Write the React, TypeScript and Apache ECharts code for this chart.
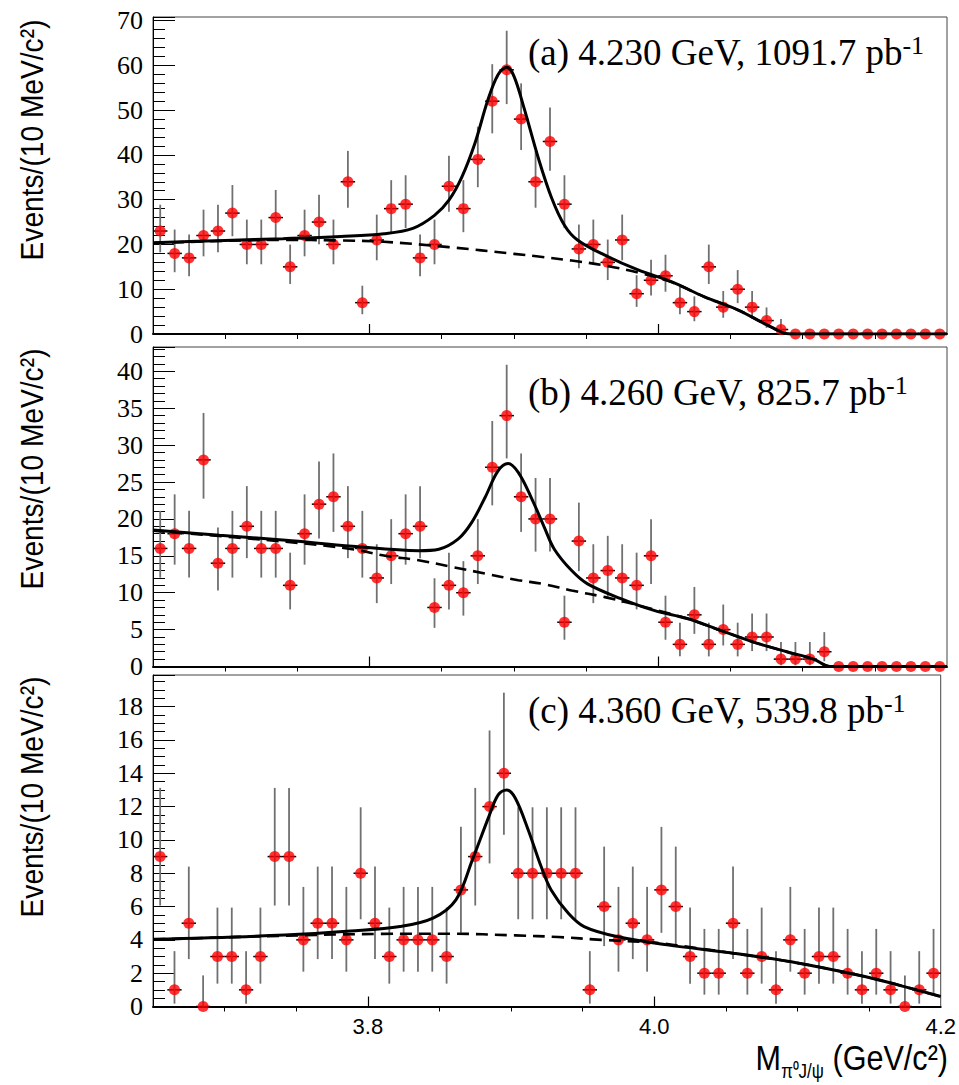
import React, { useEffect, useRef } from "react";
import * as echarts from "echarts";

// ---------- data ----------
const BIN_CENTERS = [
  3.655, 3.665, 3.675, 3.685, 3.695, 3.705, 3.715, 3.725, 3.735, 3.745,
  3.755, 3.765, 3.775, 3.785, 3.795, 3.805, 3.815, 3.825, 3.835, 3.845,
  3.855, 3.865, 3.875, 3.885, 3.895, 3.905, 3.915, 3.925, 3.935, 3.945,
  3.955, 3.965, 3.975, 3.985, 3.995, 4.005, 4.015, 4.025, 4.035, 4.045,
  4.055, 4.065, 4.075, 4.085, 4.095, 4.105, 4.115, 4.125, 4.135, 4.145,
  4.155, 4.165, 4.175, 4.185, 4.195,
];

const COUNTS_A = [
  23, 18, 17, 22, 23, 27, 20, 20, 26, 15,
  22, 25, 20, 34, 7, 21, 28, 29, 17, 20,
  33, 28, 39, 52, 59, 48, 34, 43, 29, 19,
  20, 16, 21, 9, 12, 13, 7, 5, 15, 6,
  10, 6, 3, 1, 0, 0, 0, 0, 0, 0,
  0, 0, 0, 0, 0,
];
const COUNTS_B = [
  16, 18, 16, 28, 14, 16, 19, 16, 16, 11,
  18, 22, 23, 19, 16, 12, 15, 18, 19, 8,
  11, 10, 15, 27, 34, 23, 20, 20, 6, 17,
  12, 13, 12, 11, 15, 6, 3, 7, 3, 5,
  3, 4, 4, 1, 1, 1, 2, 0, 0, 0,
  0, 0, 0, 0, 0,
];
const COUNTS_C = [
  9, 1, 5, 0, 3, 3, 1, 3, 9, 9,
  4, 5, 5, 4, 8, 5, 3, 4, 4, 4,
  3, 7, 9, 12, 14, 8, 8, 8, 8, 8,
  1, 6, 4, 5, 4, 7, 6, 3, 2, 2,
  5, 2, 3, 1, 4, 2, 3, 3, 2, 1,
  2, 1, 0, 1, 2,
];

// fitted curves: [mass, events]
const TOTAL_A = [
  [3.65, 20.4], [3.7, 20.9], [3.74, 21.3], [3.78, 21.8], [3.81, 22.4], [3.83, 23.6],
  [3.845, 26.5], [3.855, 29.9], [3.864, 35.1], [3.873, 42.6], [3.882, 52.3], [3.889, 57.9],
  [3.895, 59.6], [3.9, 57.6], [3.907, 50.5], [3.917, 39.2], [3.926, 30.5], [3.935, 24.3],
  [3.944, 21.0], [3.963, 17.6], [3.986, 14.3], [4.009, 11.7], [4.032, 8.3], [4.055, 5.4],
  [4.078, 1.6], [4.091, 0], [4.2, 0],
];
const BKG_A = [
  [3.65, 20.3], [3.7, 20.8], [3.74, 21.0], [3.78, 20.9], [3.81, 20.6], [3.855, 19.4],
  [3.9, 17.9], [3.917, 17.3], [3.94, 16.4], [3.963, 15.3], [3.986, 13.7], [4.009, 11.6],
  [4.032, 8.3], [4.055, 5.4], [4.078, 1.6], [4.091, 0], [4.2, 0],
];
const TOTAL_B = [
  [3.65, 18.5], [3.696, 17.8], [3.742, 17.1], [3.788, 16.3], [3.834, 15.7], [3.848, 15.9],
  [3.8615, 17.3], [3.8707, 19.5], [3.88, 22.9], [3.889, 26.5], [3.896, 27.5], [3.903, 26.3],
  [3.912, 22.9], [3.921, 18.9], [3.928, 15.9], [3.94, 13.0], [3.951, 11.2], [3.974, 9.2],
  [3.997, 7.6], [4.02, 6.5], [4.043, 4.9], [4.066, 3.3], [4.089, 2.0], [4.1075, 1.0],
  [4.119, 0], [4.2, 0],
];
const BKG_B = [
  [3.65, 18.4], [3.742, 16.9], [3.788, 15.9], [3.811, 15.0], [3.834, 14.4], [3.857, 13.5],
  [3.88, 12.6], [3.903, 11.7], [3.92, 11.2], [3.94, 10.3], [3.963, 9.4], [3.986, 8.3],
  [4.009, 7.1], [4.02, 6.5], [4.043, 4.9], [4.066, 3.3], [4.089, 2.0], [4.1075, 1.0],
  [4.119, 0], [4.2, 0],
];
const TOTAL_C = [
  [3.65, 4.03], [3.742, 4.29], [3.788, 4.53], [3.8225, 4.8], [3.8455, 5.3], [3.8615, 6.4],
  [3.873, 8.8], [3.8845, 11.4], [3.891, 12.7], [3.897, 13.0], [3.903, 12.5], [3.912, 10.6],
  [3.921, 8.4], [3.928, 7.0], [3.94, 5.6], [3.951, 4.8], [3.974, 4.2], [4.009, 3.7],
  [4.055, 3.2], [4.101, 2.6], [4.147, 1.8], [4.17, 1.3], [4.2, 0.6],
];
const BKG_C = [
  [3.65, 4.02], [3.742, 4.25], [3.811, 4.36], [3.857, 4.37], [3.903, 4.27], [3.933, 4.17],
  [3.963, 4.0], [3.997, 3.85], [4.009, 3.75], [4.055, 3.2], [4.101, 2.6], [4.147, 1.8],
  [4.17, 1.3], [4.2, 0.6],
];

const LABELS = [
  "(a) 4.230 GeV, 1091.7 pb",
  "(b) 4.260 GeV, 825.7 pb",
  "(c) 4.360 GeV, 539.8 pb",
];
const X_LABEL_VALUES = [3.8, 4.0, 4.2];
const X_MAJOR_TICKS = [3.8, 4.0];
const X_MINOR_TICKS = [3.7, 3.75, 3.85, 3.9, 3.95, 4.05, 4.1, 4.15];

// ---------- layout ----------
const SERIF = '"Liberation Serif", "Times New Roman", serif';
const SANS = '"Liberation Sans", Arial, Helvetica, sans-serif';

const PANELS = [
  { counts: COUNTS_A, total: TOTAL_A, bkg: BKG_A, top: 17, height: 317, ymax: 70.8, interval: 10, minor: 5, zeroBars: false, titleY: 140, labelTop: 32.5 },
  { counts: COUNTS_B, total: TOTAL_B, bkg: BKG_B, top: 347, height: 319.5, ymax: 43.3, interval: 5, minor: 5, zeroBars: false, titleY: 469, labelTop: 372.5 },
  { counts: COUNTS_C, total: TOTAL_C, bkg: BKG_C, top: 675, height: 331.5, ymax: 19.9, interval: 2, minor: 4, zeroBars: true, titleY: 797, labelTop: 690.5 },
];

function buildOption() {
  const grid: any[] = [];
  const xAxis: any[] = [];
  const yAxis: any[] = [];
  const series: any[] = [];
  const graphic: any[] = [];

  PANELS.forEach((p, i) => {
    grid.push({
      left: 153,
      right: 12,
      top: p.top,
      height: p.height,
      show: true,
      borderColor: "#444",
      borderWidth: 1,
      backgroundColor: "transparent",
    });
    xAxis.push({
      type: "value",
      gridIndex: i,
      min: 3.65,
      max: 4.2,
      axisLine: { show: true, onZero: false, lineStyle: { color: "#000", width: 2 } },
      axisTick: { show: true, inside: true, length: 10, customValues: X_MAJOR_TICKS, lineStyle: { color: "#000", width: 1.2 } },
      axisLabel: {
        show: i === 2,
        customValues: X_LABEL_VALUES,
        formatter: (v: number) => v.toFixed(1),
        fontFamily: SANS,
        fontSize: 22,
        color: "#000",
        margin: 9,
      },
      splitLine: { show: false },
    });
    xAxis.push({
      type: "value",
      gridIndex: i,
      min: 3.65,
      max: 4.2,
      axisLine: { show: false },
      axisTick: { show: true, inside: true, length: 5, customValues: X_MINOR_TICKS, lineStyle: { color: "#000", width: 1 } },
      axisLabel: { show: false },
      splitLine: { show: false },
    });
    yAxis.push({
      type: "value",
      gridIndex: i,
      min: 0,
      max: p.ymax,
      interval: p.interval,
      axisLine: { show: true, lineStyle: { color: "#000", width: 1 } },
      axisTick: { show: true, inside: true, length: 22, lineStyle: { color: "#000", width: 1 } },
      minorTick: { show: true, splitNumber: p.minor, length: 12, lineStyle: { color: "#000", width: 1 } },
      axisLabel: { showMaxLabel: false, fontFamily: SERIF, fontSize: 26, color: "#000", margin: 10 },
      splitLine: { show: false },
      minorSplitLine: { show: false },
    });

    const pts = BIN_CENTERS.map((x, k) => [x, p.counts[k]]);
    const zeroBars = p.zeroBars;
    series.push({
      type: "custom",
      xAxisIndex: 2 * i,
      yAxisIndex: i,
      data: pts,
      z: 2,
      silent: true,
      renderItem: (_params: any, api: any) => {
        const x = api.value(0);
        const n = api.value(1);
        const c = api.coord([x, n]);
        const l = api.coord([x - 0.005, n]);
        const r = api.coord([x + 0.005, n]);
        const children: any[] = [
          { type: "line", shape: { x1: l[0], y1: c[1], x2: r[0], y2: c[1] }, style: { stroke: "#000", lineWidth: 1.5 } },
        ];
        if (n > 0 || zeroBars) {
          const hiVal = n + Math.sqrt(n + 0.75) + 1;
          const loVal = n > 0 ? n * Math.pow(1 - 1 / (9 * n) - 1 / (3 * Math.sqrt(n)), 3) : 0;
          const hi = api.coord([x, hiVal]);
          const lo = api.coord([x, loVal]);
          children.push({
            type: "line",
            shape: { x1: c[0], y1: hi[1], x2: c[0], y2: lo[1] },
            style: { stroke: "#707070", lineWidth: 1.8 },
          });
        }
        return { type: "group", children };
      },
    });
    series.push({
      type: "scatter",
      xAxisIndex: 2 * i,
      yAxisIndex: i,
      data: pts,
      symbol: "circle",
      symbolSize: 11,
      itemStyle: { color: "#ff0000" },
      z: 3,
      silent: true,
    });
    series.push({
      type: "line",
      xAxisIndex: 2 * i,
      yAxisIndex: i,
      data: p.bkg,
      showSymbol: false,
      smooth: 0.35,
      lineStyle: { color: "#000", width: 2.6, type: [12, 7] },
      z: 4,
      silent: true,
    });
    series.push({
      type: "line",
      xAxisIndex: 2 * i,
      yAxisIndex: i,
      data: p.total,
      showSymbol: false,
      smooth: 0.35,
      lineStyle: { color: "#000", width: 3 },
      z: 5,
      silent: true,
    });

    graphic.push({
      type: "text",
      x: 32,
      y: p.titleY,
      rotation: Math.PI / 2,
      scaleX: 0.88,
      style: {
        text: "Events/(10 MeV/c²)",
        fontFamily: SANS,
        fontSize: 32,
        fill: "#000",
        align: "center",
        verticalAlign: "middle",
      },
      z: 10,
    });
    graphic.push({
      type: "text",
      x: 528,
      y: p.labelTop,
      style: {
        text: `{m|${LABELS[i]}}{s|-1}`,
        fill: "#000",
        align: "left",
        verticalAlign: "top",
        rich: {
          m: { fontFamily: SERIF, fontSize: 37, lineHeight: 40, fill: "#000" },
          s: { fontFamily: SERIF, fontSize: 26, lineHeight: 26, verticalAlign: "top", fill: "#000" },
        },
      },
      z: 10,
    });
  });

  graphic.push({
    type: "text",
    x: 948,
    y: 1034.5,
    scaleX: 0.85,
    style: {
      text: "{m|M}{s|π⁰J/ψ}{m| (GeV/c²)}",
      fill: "#000",
      align: "right",
      verticalAlign: "top",
      rich: {
        m: { fontFamily: SANS, fontSize: 36, lineHeight: 46, fill: "#000" },
        s: { fontFamily: SANS, fontSize: 20, lineHeight: 20, verticalAlign: "bottom", fill: "#000" },
      },
    },
    z: 10,
  });

  return {
    animation: false,
    backgroundColor: "#fff",
    grid,
    xAxis,
    yAxis,
    series,
    graphic,
  };
}

export default function App() {
  const ref = useRef<HTMLDivElement>(null);
  useEffect(() => {
    if (!ref.current) return;
    const chart = echarts.init(ref.current, null, { renderer: "svg" });
    chart.setOption(buildOption() as any);
    return () => chart.dispose();
  }, []);
  return (
    <div
      ref={ref}
      style={{ position: "fixed", left: 0, top: 0, width: 959, height: 1085, background: "#fff" }}
    />
  );
}
